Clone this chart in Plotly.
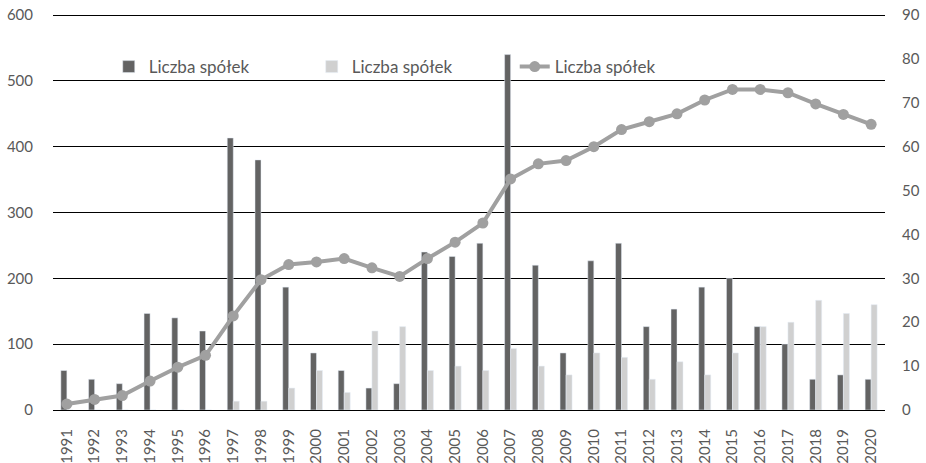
import plotly.graph_objects as go

years = [str(y) for y in range(1991, 2021)]
# New listings (right axis, 0-90)
debiuty = [9, 7, 6, 22, 21, 18, 62, 57, 28, 13, 9, 5, 6, 36, 35, 38, 81, 33, 13, 34,
           38, 19, 23, 28, 30, 19, 15, 7, 8, 7]
# Delistings (right axis, 0-90)
wycofania = [0, 0, 0, 0, 0, 0, 2, 2, 5, 9, 4, 18, 19, 9, 10, 9, 14, 10, 8, 13,
             12, 7, 11, 8, 13, 19, 20, 25, 22, 24]
# Number of listed companies (left axis, 0-600)
liczba = [9, 16, 22, 44, 65, 83, 143, 198, 221, 225, 230, 216, 203, 230, 255, 284, 351, 374, 379, 400,
          426, 438, 450, 471, 487, 487, 482, 465, 449, 434]

label = "Liczba spółek"
font_family = "Lato, 'Open Sans', sans-serif"
txt = "#595959"

fig = go.Figure()
fig.add_trace(go.Bar(x=years, y=debiuty, name=label, marker_color="#636363",
                     yaxis="y", offsetgroup="a"))
fig.add_trace(go.Bar(x=years, y=wycofania, name=label, marker_color="#d0d0d0",
                     yaxis="y", offsetgroup="b"))
fig.add_trace(go.Scatter(x=years, y=liczba, name=label, mode="lines+markers",
                         line=dict(color="#a0a0a0", width=4),
                         marker=dict(color="#a0a0a0", size=11),
                         yaxis="y2"))

fig.update_layout(
    width=926, height=463,
    margin=dict(l=53, r=41, t=14, b=53),
    paper_bgcolor="white", plot_bgcolor="white",
    font=dict(family=font_family, color=txt),
    barmode="group", bargap=0.567, bargroupgap=0,
    showlegend=True,
    legend=dict(orientation="h", x=0.067, y=0.866, xanchor="left", yanchor="middle",
                font=dict(size=17, color=txt), entrywidth=158, entrywidthmode="pixels",
                bgcolor="rgba(0,0,0,0)", traceorder="normal"),
    xaxis=dict(type="category", range=[-0.5, len(years) - 0.5], tickangle=-90,
               tickfont=dict(size=15, color=txt),
               showgrid=False, showline=True, linecolor="#000000", linewidth=1,
               ticks="", ticklen=0, automargin=False, ticklabelstandoff=12),
    yaxis=dict(side="right", range=[0, 90.25], dtick=10, showgrid=False, zeroline=False,
               tickfont=dict(size=15, color=txt), showline=False, ticks="",
               automargin=False, ticklabelstandoff=16),
    yaxis2=dict(side="left", overlaying="y", range=[0, 600 * 90.25 / 90], dtick=100,
                showgrid=True, gridcolor="#000000", gridwidth=1, zeroline=False,
                tickfont=dict(size=15, color=txt), showline=False, ticks="",
                automargin=False, ticklabelstandoff=19),
)

fig.write_html("out.html")
